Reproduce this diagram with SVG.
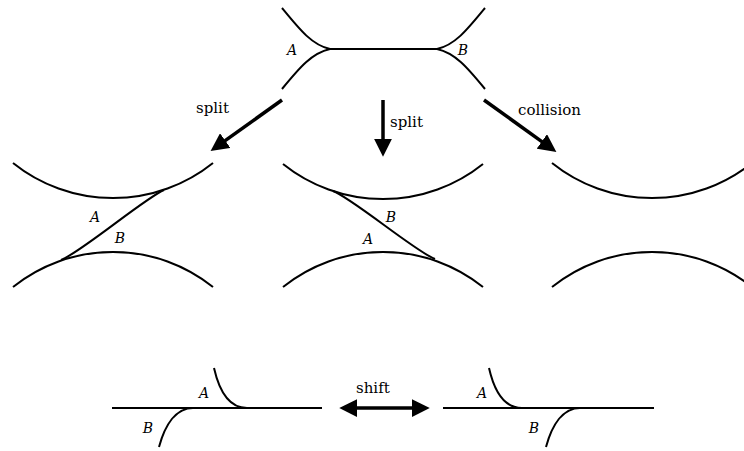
<svg xmlns="http://www.w3.org/2000/svg" width="744" height="451" viewBox="0 0 744 451">
<style>
.c{fill:none;stroke:#000;stroke-width:2}
.a{fill:none;stroke:#000;stroke-width:3.5}
.t{font-family:'DejaVu Serif','Liberation Serif',serif;font-size:15px;fill:#000}
.l{font-family:'DejaVu Serif','Liberation Serif',serif;font-size:14px;font-style:italic;fill:#000}
</style>
<defs>
<marker id="h" markerUnits="userSpaceOnUse" markerWidth="18" markerHeight="18" refX="2" refY="8" orient="auto-start-reverse" viewBox="0 0 16 16">
<path d="M0,0 L16,8 L0,16 z" fill="#000"/>
</marker>
</defs>
<rect width="744" height="451" fill="#fff"/>
<g id="top">
<path class="c" d="M282,8 C300,30 312,45 330,49 L437,49"/>
<path class="c" d="M282,89 C300,67 312,53 330,49"/>
<path class="c" d="M485,8 C467,30 455,45 437,49"/>
<path class="c" d="M485,89 C467,67 455,53 437,49"/>
<text class="l" x="292" y="55" text-anchor="middle">A</text>
<text class="l" x="463" y="55" text-anchor="middle">B</text>
</g>
<g id="split-left">
<path class="c" d="M13,163 A160,160 0 0 0 213,163"/>
<path class="c" d="M13,287 A160,160 0 0 1 213,287"/>
<path class="c" d="M61,260 C80,253 145,198 164,190"/>
<text class="l" x="95" y="222" text-anchor="middle">A</text>
<text class="l" x="120" y="243" text-anchor="middle">B</text>
</g>
<g id="split-middle">
<path class="c" d="M283,164 A160,160 0 0 0 483,164"/>
<path class="c" d="M283,287 A160,160 0 0 1 483,287"/>
<path class="c" d="M333,191 C352,198 416,252 435,259"/>
<text class="l" x="391" y="222" text-anchor="middle">B</text>
<text class="l" x="368" y="244" text-anchor="middle">A</text>
</g>
<g id="collision">
<path class="c" d="M552,163 A160,160 0 0 0 752,163"/>
<path class="c" d="M552,287 A160,160 0 0 1 752,287"/>
</g>
<g id="shift-left">
<path class="c" d="M112,408 L322,408"/>
<path class="c" d="M214,368 C219,390 228,408 247,408"/>
<path class="c" d="M193,408 C176,408 165,425 159,447"/>
<text class="l" x="204" y="398" text-anchor="middle">A</text>
<text class="l" x="148" y="433" text-anchor="middle">B</text>
</g>
<g id="shift-right">
<path class="c" d="M443,408 L654,408"/>
<path class="c" d="M489,368 C494,390 503,408 522,408"/>
<path class="c" d="M580,408 C563,408 552,425 546,447"/>
<text class="l" x="482" y="398" text-anchor="middle">A</text>
<text class="l" x="534" y="433" text-anchor="middle">B</text>
</g>
<g id="connectors">
<line class="a" x1="282" y1="100" x2="223.4" y2="141.9" marker-end="url(#h)"/>
<line class="a" x1="383" y1="100" x2="383" y2="141" marker-end="url(#h)"/>
<line class="a" x1="484" y1="100" x2="543.6" y2="142.8" marker-end="url(#h)"/>
<line class="a" x1="355" y1="408" x2="414" y2="408" marker-start="url(#h)" marker-end="url(#h)"/>
<text class="t" x="196" y="113">split</text>
<text class="t" x="390" y="127">split</text>
<text class="t" x="518" y="115">collision</text>
<text class="t" x="356" y="393">shift</text>
</g>
</svg>
